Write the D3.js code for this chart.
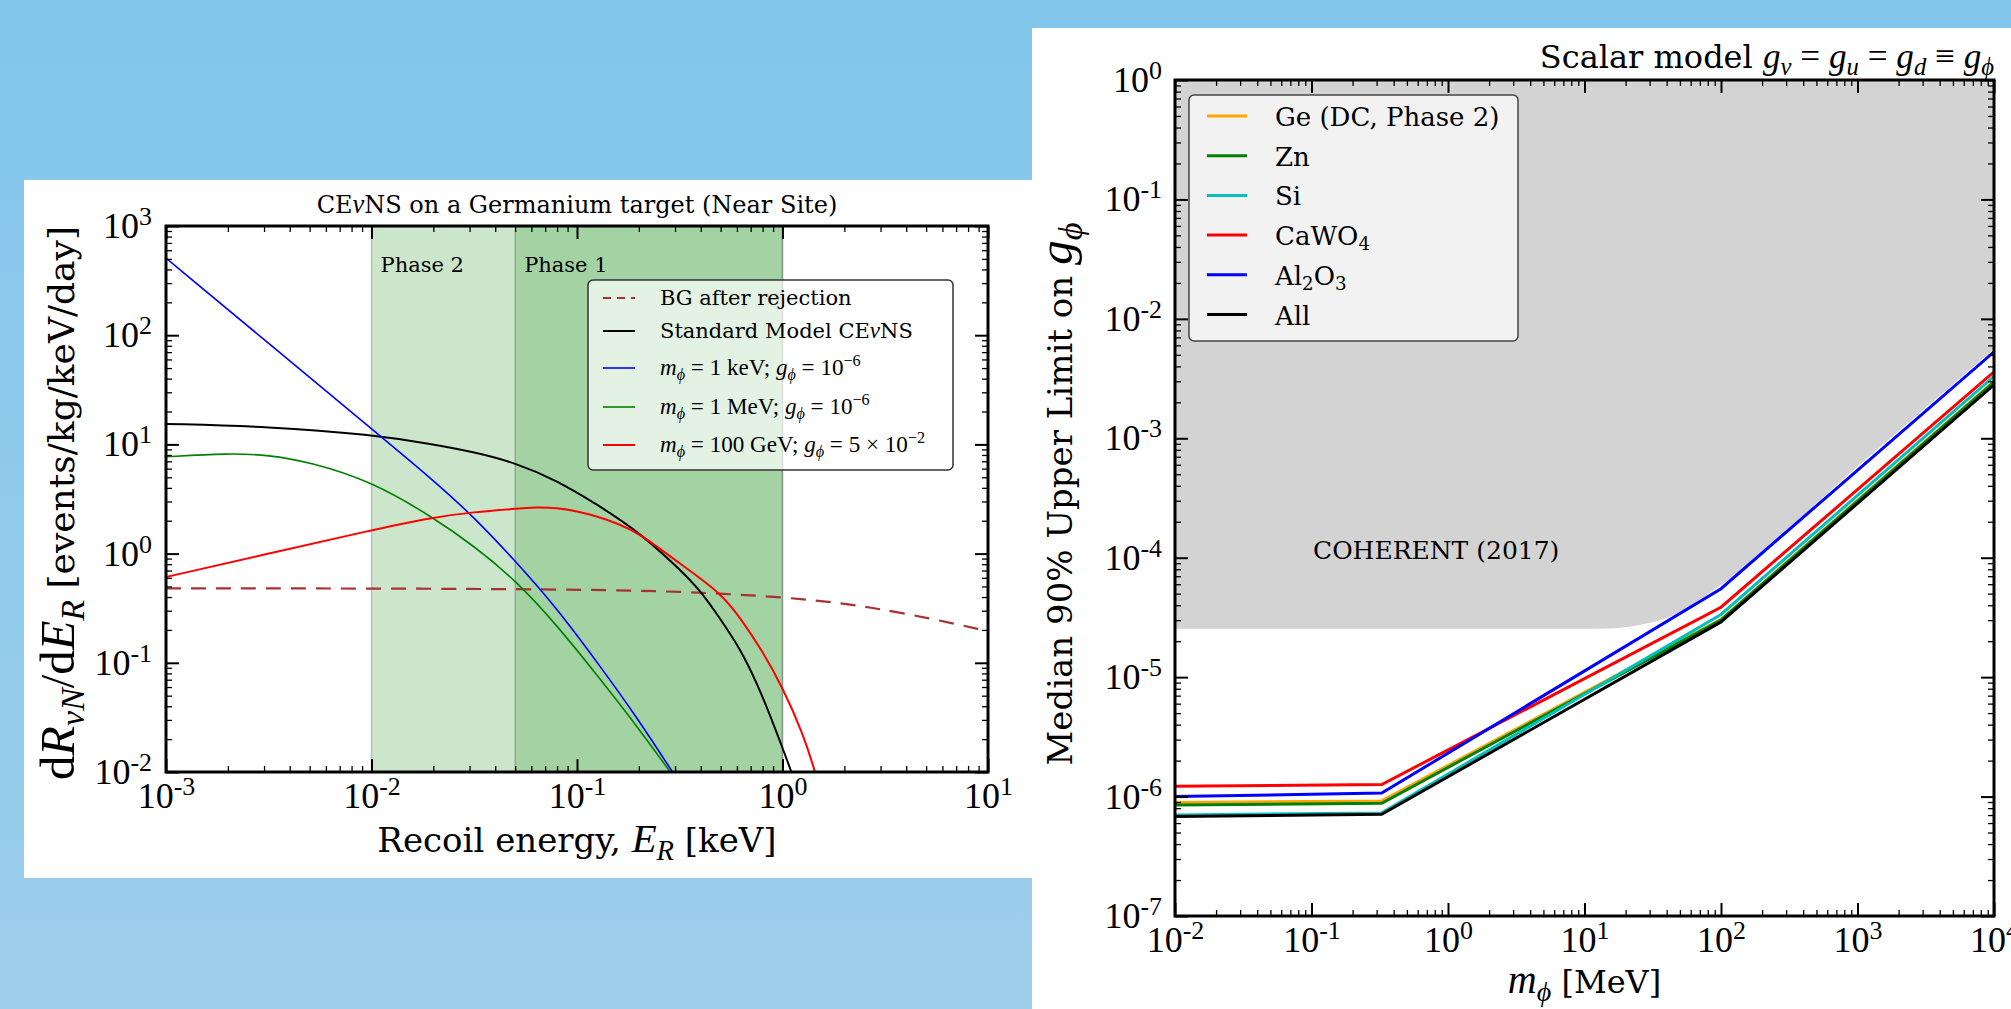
<!DOCTYPE html>
<html>
<head>
<meta charset="utf-8">
<title>CEvNS rates and scalar mediator limits</title>
<script src="https://d3js.org/d3.v7.min.js"></script>
<style>
  body { margin: 0; background: #fff; }
  svg { display: block; }
</style>
</head>
<body>
<svg id="slide" width="2011" height="1009"></svg>
<script>
// ---------- left chart: dR/dE on germanium ----------
var energyBG  = [0.001, 0.01, 0.1, 0.3, 0.5, 1, 2, 3, 5, 10];
var rateBG    = [0.48, 0.48, 0.47, 0.45, 0.43, 0.40, 0.35, 0.31, 0.26, 0.195];
var energySM  = [0.001, 0.00316, 0.01, 0.02, 0.0316, 0.05, 0.0794, 0.126, 0.2, 0.316, 0.398, 0.5, 0.631, 0.794, 1.0, 1.122, 1.2];
var rateSM    = [15.4, 14.6, 12.3, 10.0, 8.5, 6.8, 4.7, 2.8, 1.58, 0.72, 0.46, 0.25, 0.13, 0.052, 0.0166, 0.0093, 0.0063];
var energyKeV = [0.001, 0.00316, 0.01, 0.02, 0.0316, 0.05, 0.0794, 0.126, 0.2, 0.316];
var rateKeV   = [509, 84, 13.9, 4.7, 2.15, 0.86, 0.32, 0.1, 0.03, 0.0079];
var energyMeV = [0.001, 0.002, 0.00316, 0.005, 0.01, 0.02, 0.0316, 0.05, 0.0794, 0.126, 0.2, 0.316];
var rateMeV   = [7.7, 8.3, 8.0, 6.9, 4.6, 2.14, 1.17, 0.575, 0.224, 0.076, 0.025, 0.0076];
var energyGeV = [0.001, 0.00316, 0.01, 0.02, 0.0316, 0.05, 0.063, 0.0794, 0.1, 0.126, 0.158, 0.2, 0.316, 0.5, 0.631, 0.794, 1.0, 1.259, 1.445, 1.585];
var rateGeV   = [0.61, 1.0, 1.64, 2.16, 2.4, 2.57, 2.66, 2.63, 2.45, 2.19, 1.88, 1.55, 0.81, 0.44, 0.25, 0.13, 0.06, 0.0224, 0.01, 0.005];
var phaseStart = [0.01, 0.05];
var phaseEnd   = 1.0;
var phaseNames = ["Phase 2", "Phase 1"];

// ---------- right chart: median 90% upper limit on g_phi ----------
var massGrid    = [0.01, 0.327, 100, 10000];
var limitGe     = [8.9e-7, 9.2e-7, 3.05e-5, 3.0e-3];
var limitZn     = [8.5e-7, 8.8e-7, 3.0e-5, 2.95e-3];
var limitSi     = [7.0e-7, 7.3e-7, 3.35e-5, 3.3e-3];
var limitCaWO4  = [1.22e-6, 1.26e-6, 3.85e-5, 3.6e-3];
var limitAl2O3  = [1.0e-6, 1.07e-6, 5.5e-5, 5.3e-3];
var limitAll    = [6.8e-7, 7.1e-7, 2.9e-5, 2.8e-3];
var coherentMass  = [0.01, 12, 20, 28, 38, 100, 1000, 10000];
var coherentLimit = [2.54e-5, 2.54e-5, 2.62e-5, 2.8e-5, 3.05e-5, 5.9e-5, 5.8e-4, 5.6e-3];

var SERIF = "'DejaVu Serif', serif";
var MATH = "'Liberation Serif', 'Times New Roman', serif";

var svg = d3.select("#slide");

// slide background
var grad = svg.append("defs").append("linearGradient").attr("id", "bg")
  .attr("x1", 0).attr("y1", 0).attr("x2", 0).attr("y2", 1);
grad.append("stop").attr("offset", "0%").attr("stop-color", "#82c6ec");
grad.append("stop").attr("offset", "100%").attr("stop-color", "#9dceeb");
svg.append("rect").attr("width", 2011).attr("height", 1009).attr("fill", "url(#bg)");
svg.append("rect").attr("x", 24).attr("y", 180).attr("width", 1008).attr("height", 698).attr("fill", "#fff");
svg.append("rect").attr("x", 1032).attr("y", 28).attr("width", 979).attr("height", 981).attr("fill", "#fff");

// text with sub/superscripts: parts = [[text, kind], ...]
function rich(t, parts, size, mscale) {
  mscale = mscale || 1.1;
  var shift = 0;
  parts.forEach(function(p) {
    var kind = p[1] || "";
    var math = kind.indexOf("it") >= 0 || kind.indexOf("rm") >= 0;
    var base = math ? size * mscale : size;
    var off = 0, fs = base;
    if (kind.indexOf("sup") >= 0) { off = -0.38 * base; fs = base * 0.7; }
    if (kind.indexOf("sub") >= 0) { off = 0.2 * base; fs = base * 0.7; }
    var ts = t.append("tspan").text(p[0]).attr("font-size", fs);
    if (off !== shift) ts.attr("dy", off - shift);
    shift = off;
    if (kind.indexOf("it") >= 0) ts.attr("font-family", MATH).attr("font-style", "italic");
    else if (kind.indexOf("rm") >= 0) ts.attr("font-family", MATH);
  });
  return t;
}

function isPow(v) { var l = Math.log10(v); return Math.abs(l - Math.round(l)) < 1e-6; }

function drawAxes(g, x, y, b, o) {
  var specs = [
    [d3.axisBottom, x, "translate(0," + b.y1 + ")", true],
    [d3.axisTop, x, "translate(0," + b.y0 + ")", false],
    [d3.axisLeft, y, "translate(" + b.x0 + ",0)", true],
    [d3.axisRight, y, "translate(" + b.x1 + ",0)", false]
  ];
  specs.forEach(function(s) {
    var sc = s[1];
    var all = sc.ticks();
    var maj = all.filter(isPow), mnr = all.filter(function(v) { return !isPow(v); });
    var gm = g.append("g").attr("transform", s[2])
      .call(s[0](sc).tickValues(mnr).tickSize(-6).tickSizeOuter(0).tickFormat(""));
    gm.select(".domain").remove();
    gm.selectAll("line").attr("stroke-width", 1.3);
    var gM = g.append("g").attr("transform", s[2])
      .call(s[0](sc).tickValues(maj).tickSize(-13).tickSizeOuter(0)
        .tickPadding(sc === x ? o.padX : o.padY).tickFormat(s[3] ? String : ""));
    gM.select(".domain").remove();
    gM.selectAll("line").attr("stroke-width", 2);
    gM.attr("font-size", o.font).attr("font-family", MATH);
    if (s[3]) {
      gM.selectAll(".tick text").attr("fill", "#000").each(function(d) {
        var e = Math.round(Math.log10(d));
        var t = d3.select(this).text(null);
        t.append("tspan").text("10");
        t.append("tspan").attr("dy", -0.36 * o.font).attr("font-size", 0.72 * o.font).text(e);
      });
    }
  });
  g.append("rect").attr("x", b.x0).attr("y", b.y0).attr("width", b.x1 - b.x0).attr("height", b.y1 - b.y0)
    .attr("fill", "none").attr("stroke", "#000").attr("stroke-width", o.spine);
}

// ================= left chart =================
var L = { x0: 166, x1: 988, y0: 226, y1: 772 };
var xL = d3.scaleLog().domain([1e-3, 10]).range([L.x0, L.x1]);
var yL = d3.scaleLog().domain([1e-2, 1e3]).range([L.y1, L.y0]);
var gL = svg.append("g");

svg.select("defs").append("clipPath").attr("id", "clipL").append("rect")
  .attr("x", L.x0).attr("y", L.y0).attr("width", L.x1 - L.x0).attr("height", L.y1 - L.y0);

phaseStart.forEach(function(s) {
  gL.append("rect").attr("x", xL(s)).attr("y", L.y0)
    .attr("width", xL(phaseEnd) - xL(s)).attr("height", L.y1 - L.y0)
    .attr("fill", "#008000").attr("fill-opacity", 0.2)
    .attr("stroke", "#000").attr("stroke-opacity", 0.2).attr("stroke-width", 1.5);
});
phaseNames.forEach(function(n, i) {
  gL.append("text").attr("x", xL(phaseStart[i]) + 9).attr("y", 272)
    .attr("font-family", SERIF).attr("font-size", 21).text(n);
});

var seriesL = [
  { E: energyBG, R: rateBG, color: "#a83232", width: 2.2, dash: "15,10",
    label: [["BG after rejection"]] },
  { E: energySM, R: rateSM, color: "#000", width: 2,
    label: [["Standard Model CE"], ["\u03bd", "it"], ["NS"]] },
  { E: energyKeV, R: rateKeV, color: "#0000ff", width: 1.6,
    label: [["m", "it"], ["\u03d5", "it sub"], [" = 1 keV; ", "rm"], ["g", "it"], ["\u03d5", "it sub"], [" = 10", "rm"], ["\u22126", "rm sup"]] },
  { E: energyMeV, R: rateMeV, color: "#008000", width: 1.6,
    label: [["m", "it"], ["\u03d5", "it sub"], [" = 1 MeV; ", "rm"], ["g", "it"], ["\u03d5", "it sub"], [" = 10", "rm"], ["\u22126", "rm sup"]] },
  { E: energyGeV, R: rateGeV, color: "#ff0000", width: 2,
    label: [["m", "it"], ["\u03d5", "it sub"], [" = 100 GeV; ", "rm"], ["g", "it"], ["\u03d5", "it sub"], [" = 5 \u00d7 10", "rm"], ["\u22122", "rm sup"]] }
];

var lineL = d3.line().x(function(d) { return xL(d[0]); }).y(function(d) { return yL(d[1]); })
  .curve(d3.curveBasis);
var curves = gL.append("g").attr("clip-path", "url(#clipL)");
seriesL.forEach(function(s) {
  curves.append("path").datum(d3.zip(s.E, s.R)).attr("d", lineL)
    .attr("fill", "none").attr("stroke", s.color).attr("stroke-width", s.width)
    .attr("stroke-dasharray", s.dash || null);
});

drawAxes(gL, xL, yL, L, { font: 36, padX: 10, padY: 14, spine: 3 });

// legend
var legL = gL.append("g");
legL.append("rect").attr("x", 588).attr("y", 280).attr("width", 365).attr("height", 190).attr("rx", 5)
  .attr("fill", "#fff").attr("fill-opacity", 0.7).attr("stroke", "#333").attr("stroke-width", 1.5);
var rowL = [298, 331, 368, 407, 445];
seriesL.forEach(function(s, i) {
  legL.append("line").attr("x1", 603).attr("x2", 635).attr("y1", rowL[i]).attr("y2", rowL[i])
    .attr("stroke", s.color).attr("stroke-width", s.width).attr("stroke-dasharray", s.dash ? "8,6" : null);
  rich(legL.append("text").attr("x", 660).attr("y", rowL[i] + 7).attr("font-family", SERIF).attr("font-size", 21),
    s.label, 21);
});

rich(gL.append("text").attr("x", (L.x0 + L.x1) / 2).attr("y", 213).attr("text-anchor", "middle")
  .attr("font-family", SERIF).attr("font-size", 24),
  [["CE"], ["\u03bd", "it"], ["NS on a Germanium target (Near Site)"]], 24);
rich(gL.append("text").attr("x", (L.x0 + L.x1) / 2).attr("y", 852).attr("text-anchor", "middle")
  .attr("font-family", SERIF).attr("font-size", 34),
  [["Recoil energy, "], ["E", "it"], ["R", "it sub"], [" [keV]"]], 34, 1.2);
rich(gL.append("text").attr("transform", "translate(74," + ((L.y0 + L.y1) / 2 + 4) + ") rotate(-90)")
  .attr("text-anchor", "middle").attr("font-family", SERIF).attr("font-size", 36),
  [["d", "rm"], ["R", "it"], ["\u03bdN", "it sub"], ["/d", "rm"], ["E", "it"], ["R", "it sub"], [" [events/kg/keV/day]"]], 36, 1.35);

// ================= right chart =================
var R = { x0: 1175, x1: 1994, y0: 80, y1: 916 };
var xR = d3.scaleLog().domain([1e-2, 1e4]).range([R.x0, R.x1]);
var yR = d3.scaleLog().domain([1e-7, 1]).range([R.y1, R.y0]);
var gR = svg.append("g");

svg.select("defs").append("clipPath").attr("id", "clipR").append("rect")
  .attr("x", R.x0).attr("y", R.y0).attr("width", R.x1 - R.x0).attr("height", R.y1 - R.y0);

var areaR = d3.area().x(function(d) { return xR(d[0]); }).y0(R.y0).y1(function(d) { return yR(d[1]); })
  .curve(d3.curveMonotoneX);
gR.append("path").datum(d3.zip(coherentMass, coherentLimit)).attr("d", areaR)
  .attr("fill", "#d3d3d3").attr("clip-path", "url(#clipR)");
gR.append("text").attr("x", 1313).attr("y", 559).attr("font-family", SERIF).attr("font-size", 25)
  .text("COHERENT (2017)");

var seriesR = [
  { v: limitGe, color: "#ffa500", label: [["Ge (DC, Phase 2)"]] },
  { v: limitZn, color: "#008000", label: [["Zn"]] },
  { v: limitSi, color: "#00bfbf", label: [["Si"]] },
  { v: limitCaWO4, color: "#ff0000", label: [["CaWO"], ["4", "sub"]] },
  { v: limitAl2O3, color: "#0000ff", label: [["Al"], ["2", "sub"], ["O"], ["3", "sub"]] },
  { v: limitAll, color: "#000", label: [["All"]] }
];
var lineR = d3.line().x(function(d) { return xR(d[0]); }).y(function(d) { return yR(d[1]); });
var linesR = gR.append("g").attr("clip-path", "url(#clipR)");
seriesR.forEach(function(s) {
  linesR.append("path").datum(d3.zip(massGrid, s.v)).attr("d", lineR)
    .attr("fill", "none").attr("stroke", s.color).attr("stroke-width", 3);
});

drawAxes(gR, xR, yR, R, { font: 36, padX: 10, padY: 13, spine: 3 });

var legR = gR.append("g");
legR.append("rect").attr("x", 1189).attr("y", 95).attr("width", 329).attr("height", 246).attr("rx", 5)
  .attr("fill", "#fff").attr("fill-opacity", 0.7).attr("stroke", "#444").attr("stroke-width", 1.5);
seriesR.forEach(function(s, i) {
  var yy = 116 + i * 39.7;
  legR.append("line").attr("x1", 1207).attr("x2", 1247).attr("y1", yy).attr("y2", yy)
    .attr("stroke", s.color).attr("stroke-width", 3);
  rich(legR.append("text").attr("x", 1275).attr("y", yy + 10).attr("font-family", SERIF).attr("font-size", 26),
    s.label, 26);
});

rich(gR.append("text").attr("x", R.x1).attr("y", 68).attr("text-anchor", "end")
  .attr("font-family", SERIF).attr("font-size", 32),
  [["Scalar model "], ["g", "it"], ["\u03bd", "it sub"], [" = ", "rm"], ["g", "it"], ["u", "it sub"],
   [" = ", "rm"], ["g", "it"], ["d", "it sub"], [" \u2261 ", "rm"], ["g", "it"], ["\u03d5", "it sub"]], 32);
rich(gR.append("text").attr("x", (R.x0 + R.x1) / 2).attr("y", 993).attr("text-anchor", "middle")
  .attr("font-family", SERIF).attr("font-size", 32),
  [["m", "it"], ["\u03d5", "it sub"], [" [MeV]"]], 32, 1.25);
rich(gR.append("text").attr("transform", "translate(1072," + ((R.y0 + R.y1) / 2 - 4) + ") rotate(-90)")
  .attr("text-anchor", "middle").attr("font-family", SERIF).attr("font-size", 34),
  [["Median 90% Upper Limit on "], ["g", "it"], ["\u03d5", "it sub"]], 34, 1.45);
</script>
</body>
</html>
